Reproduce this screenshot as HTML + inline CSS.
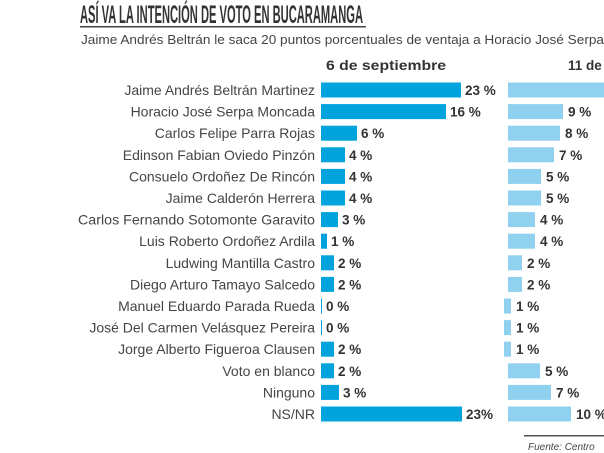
<!DOCTYPE html>
<html><head><meta charset="utf-8"><style>
html,body{margin:0;padding:0;background:#fff;}
svg{display:block;font-family:"Liberation Sans",sans-serif;}
.l{font-size:14px;fill:#454545;text-anchor:end;}
.v{font-size:13.5px;font-weight:bold;fill:#333;}
</style></head><body>
<svg width="604" height="453" viewBox="0 0 604 453">
<text x="80" y="23" font-size="25" font-weight="bold" fill="#333" textLength="283" lengthAdjust="spacingAndGlyphs">ASÍ VA LA INTENCIÓN DE VOTO EN BUCARAMANGA</text>
<rect x="80" y="26" width="286" height="1.5" fill="#444"/>
<text x="81" y="44" font-size="13" fill="#444" textLength="523" lengthAdjust="spacingAndGlyphs">Jaime Andrés Beltrán le saca 20 puntos porcentuales de ventaja a Horacio José Serpa</text>
<text x="326" y="70" font-size="13.5" font-weight="bold" fill="#333" textLength="120" lengthAdjust="spacingAndGlyphs">6 de septiembre</text>
<text x="568" y="70" font-size="13.5" font-weight="bold" fill="#333">11 de</text>
<g id="rows"></g>
<rect x="524" y="435" width="80" height="1.5" fill="#555"/>
<text x="528" y="450" font-size="10" font-style="italic" fill="#444">Fuente: Centro</text>
</svg>
<script>
var rows=[
["Jaime Andrés Beltrán Martinez",321,461,"23 %",508,610,""],
["Horacio José Serpa Moncada",321,446,"16 %",508,563,"9 %"],
["Carlos Felipe Parra Rojas",321,357,"6 %",508,560,"8 %"],
["Edinson Fabian Oviedo Pinzón",321,345,"4 %",508,554,"7 %"],
["Consuelo Ordoñez De Rincón",321,345,"4 %",508,541,"5 %"],
["Jaime Calderón Herrera",321,345,"4 %",508,541,"5 %"],
["Carlos Fernando Sotomonte Garavito",321,338,"3 %",508,535,"4 %"],
["Luis Roberto Ordoñez Ardila",321,327,"1 %",508,535,"4 %"],
["Ludwing Mantilla Castro",321,334,"2 %",508,522,"2 %"],
["Diego Arturo Tamayo Salcedo",321,334,"2 %",508,522,"2 %"],
["Manuel Eduardo Parada Rueda",321,322,"0 %",504,511,"1 %"],
["José Del Carmen Velásquez Pereira",321,322,"0 %",504,511,"1 %"],
["Jorge Alberto Figueroa Clausen",321,334,"2 %",504,511,"1 %"],
["Voto en blanco",321,334,"2 %",508,540,"5 %"],
["Ninguno",321,339,"3 %",508,551,"7 %"],
["NS/NR",321,462,"23%",508,571,"10 %"]];
var s="";
rows.forEach(function(r,i){
var c=90+i*21.6;
var tl=r[0]=="Carlos Fernando Sotomonte Garavito"?' textLength="237" lengthAdjust="spacingAndGlyphs"':'';
s+='<text class="l" x="315" y="'+(c+5)+'"'+tl+'>'+r[0]+'</text>';
s+='<rect x="'+r[1]+'" y="'+(c-7.5)+'" width="'+(r[2]-r[1])+'" height="15" fill="#00a3dc"/>';
s+='<text class="v" x="'+(r[2]+4)+'" y="'+(c+5)+'">'+r[3]+'</text>';
s+='<rect x="'+r[4]+'" y="'+(c-7.5)+'" width="'+(r[5]-r[4])+'" height="15" fill="#8fd1ef"/>';
if(r[6])s+='<text class="v" x="'+(r[5]+5)+'" y="'+(c+5)+'">'+r[6]+'</text>';
});
document.getElementById("rows").innerHTML=s;
</script>
</body></html>
